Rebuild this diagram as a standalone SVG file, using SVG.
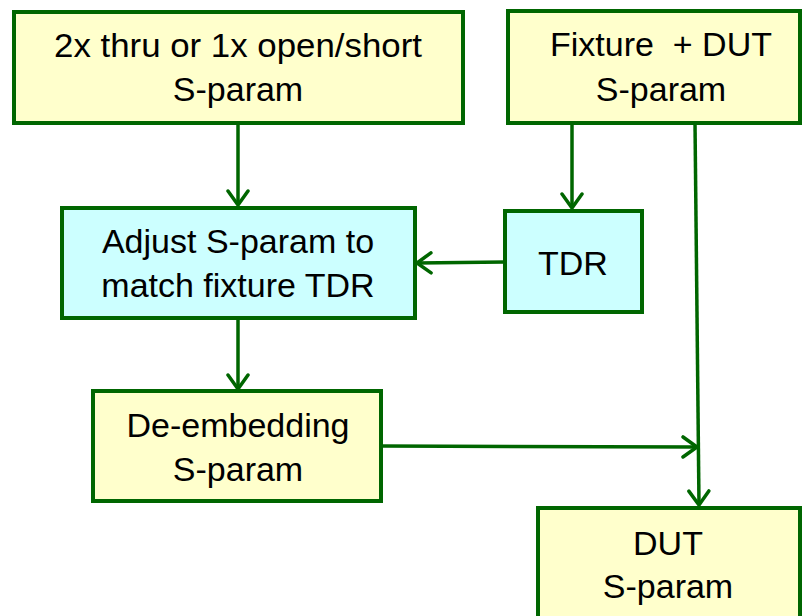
<svg xmlns="http://www.w3.org/2000/svg" width="803" height="616" viewBox="0 0 803 616">
<defs>
<style>
.box{stroke:#006600;stroke-width:4}
.y{fill:#FFFFCC}
.c{fill:#CCFFFF}
.t{font-family:"Liberation Sans",Arial,sans-serif;font-size:34px;fill:#000;text-anchor:middle}
.ln{stroke:#006600;stroke-width:3.5;fill:none}
</style>
<marker id="ah" viewBox="0 0 20 24" refX="18" refY="12" markerWidth="20" markerHeight="24" markerUnits="userSpaceOnUse" orient="auto">
<path d="M4,2 L18,12 L4,22" fill="none" stroke="#006600" stroke-width="3.5" stroke-linecap="round" stroke-linejoin="miter"/>
</marker>
</defs>
<rect width="803" height="616" fill="#fff"/>
<g id="connectors">
<line class="ln" x1="238" y1="123" x2="238" y2="205" marker-end="url(#ah)"/>
<line class="ln" x1="572" y1="123" x2="572" y2="208" marker-end="url(#ah)"/>
<line class="ln" x1="505" y1="262" x2="417" y2="263" marker-end="url(#ah)"/>
<line class="ln" x1="238" y1="318" x2="238" y2="389" marker-end="url(#ah)"/>
<line class="ln" x1="381" y1="446" x2="697" y2="447" marker-end="url(#ah)"/>
<line class="ln" x1="695" y1="123" x2="699" y2="505" marker-end="url(#ah)"/>
</g>
<g id="n1"><rect class="box y" x="14" y="12" width="449" height="111"/>
<text class="t" x="238" y="57" textLength="368" lengthAdjust="spacingAndGlyphs">2x thru or 1x open/short</text>
<text class="t" x="238" y="101">S-param</text></g>
<g id="n2"><rect class="box y" x="508" y="11" width="292" height="112"/>
<text class="t" x="661" y="56" xml:space="preserve">Fixture  + DUT</text>
<text class="t" x="661" y="101">S-param</text></g>
<g id="n3"><rect class="box c" x="62" y="208" width="353" height="110"/>
<text class="t" x="238" y="253">Adjust S-param to</text>
<text class="t" x="238" y="297">match fixture TDR</text></g>
<g id="n4"><rect class="box c" x="505" y="211" width="137" height="101"/>
<text class="t" x="573" y="275">TDR</text></g>
<g id="n5"><rect class="box y" x="93" y="391" width="288" height="110"/>
<text class="t" x="238" y="437">De-embedding</text>
<text class="t" x="238" y="481">S-param</text></g>
<g id="n6"><rect class="box y" x="538" y="508" width="262" height="112"/>
<text class="t" x="668" y="555">DUT</text>
<text class="t" x="668" y="598">S-param</text></g>
</svg>
